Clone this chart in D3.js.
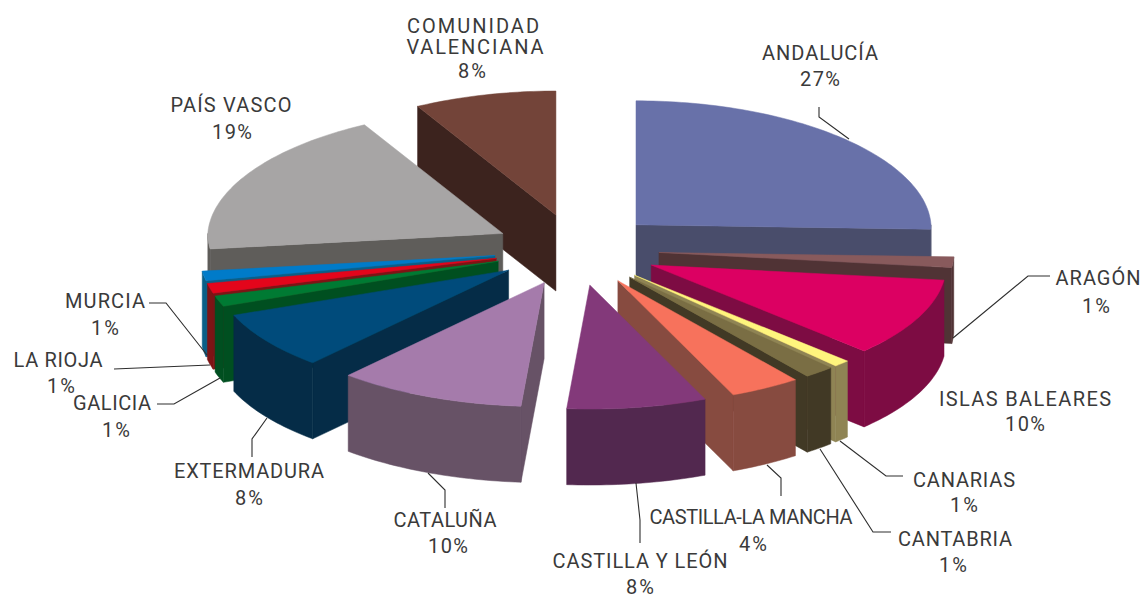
<!doctype html>
<html>
<head>
<meta charset="utf-8">
<style>
    html, body { margin: 0; padding: 0; background: #fff; overflow: hidden; }
    svg { display: block; }
    .lbl { font-family: Roboto, "Liberation Sans", sans-serif; font-size: 20px; fill: #3a3a3a; }
    .leader { fill: none; stroke: #2e2e2e; stroke-width: 1.1; }
</style>
<script src="https://d3js.org/d3.v7.min.js"></script>
</head>
<body>
<svg width="1141" height="594"></svg>
<script>
// clockwise from 12 o'clock
var categories = ["ANDALUCÍA", "ARAGÓN", "ISLAS BALEARES", "CANARIAS", "CANTABRIA",
    "CASTILLA-LA MANCHA", "CASTILLA Y LEÓN", "CATALUÑA", "EXTERMADURA", "GALICIA",
    "LA RIOJA", "MURCIA", "PAÍS VASCO", "COMUNIDAD VALENCIANA"];
// share as drawn, measured off the slice angles
var shares = [25.56, 1.38, 10.23, 0.89, 1.66, 3.89, 7.64, 10.31, 7.52, 1.39, 1.28, 1.25, 19, 8];
// share as printed in the labels
var printed = ["27%", "1%", "10%", "1%", "1%", "4%", "8%", "10%", "8%", "1%", "1%", "1%", "19%", "8%"];
var topColors = ["#6871a9", "#885a5c", "#dc0062", "#fff57d", "#7a6e44", "#f7725c", "#83397a",
    "#a57bab", "#004b7b", "#007a33", "#e3051b", "#007bc9", "#a7a5a5", "#734439"];
var wallColors = ["#494d6b", "#503335", "#7d0c43", "#8f8454", "#413925", "#874b40", "#52284f",
    "#675266", "#052c47", "#004f20", "#7d1415", "#0a5f87", "#5f5d5a", "#3c231e"];

// label placement: name lines [centre x, baseline, width], then percent [centre x, baseline]
var labelSpots = [
    {lines: [[820, 60, 116]], pct: [820, 86]},
    {lines: [[1098, 285, 85]], pct: [1096, 313]},
    {lines: [[1025, 406, 172]], pct: [1025, 431]},
    {lines: [[964, 487, 102]], pct: [964, 512]},
    {lines: [[955, 546, 114]], pct: [953, 572]},
    {lines: [[751, 524, 203]], pct: [753, 551]},
    {lines: [[640, 568, 175]], pct: [640, 594]},
    {lines: [[445, 527, 103]], pct: [448, 553]},
    {lines: [[249, 478, 150]], pct: [249, 505]},
    {lines: [[112, 410, 78]], pct: [116, 437]},
    {lines: [[58, 367, 89]], pct: [61, 393]},
    {lines: [[105, 308, 80]], pct: [105, 335]},
    {lines: [[231, 112, 121]], pct: [232, 139]},
    {lines: [[473, 33, 132], [475, 54, 137]], pct: [472, 78]}
];
var leaders = [
    [[819, 107], [819, 117], [849, 139]],
    [[1050, 276], [1028, 276], [953, 338]],
    [[840, 441], [886, 476], [903, 476]],
    [[820, 449], [873, 532], [891, 532]],
    [[767, 465], [781, 478], [781, 496]],
    [[636, 483], [640, 520], [640, 543]],
    [[428, 473], [445, 490], [445, 508]],
    [[267, 418], [252, 439], [252, 457]],
    [[220, 378], [174, 404], [157, 404]],
    [[210, 365], [114, 369]],
    [[149, 303], [166, 303], [207, 355]]
];

var cx = 576.5, cy = 249.7, // pie centre before exploding
    explodeX = 82.7, explodeY = 35.8,
    rx = 295, ry = 124,
    farShrink = 0.03, // far half of the pie is a bit narrower, perspective
    depth = 76;

var svg = d3.select("svg");
var px = d3.scaleLinear().domain([-1, 1]).range([-rx, rx]);
var py = d3.scaleLinear().domain([-1, 1]).range([ry, -ry]);
var line = d3.line();

var arcs = d3.pie().sort(null).value(function(d) { return d; })(shares);

arcs.forEach(function(a, i) {
    a.i = i;
    a.mid = (a.startAngle + a.endAngle) / 2;
    a.ax = cx + Math.sin(a.mid) * explodeX;
    a.ay = cy - Math.cos(a.mid) * explodeY;
});

function rim(a, t) {
    var c = Math.cos(t);
    return [a.ax + px(Math.sin(t)) * (1 - farShrink * Math.max(0, c)), a.ay + py(c)];
}
function down(p) { return [p[0], p[1] + depth]; }
function sweep(t0, t1) {
    var n = Math.max(2, Math.ceil((t1 - t0) / 0.02));
    return d3.range(n + 1).map(function(k) { return t0 + (t1 - t0) * k / n; });
}

// far slices first, near ones paint over them
var order = arcs.slice().sort(function(a, b) { return Math.cos(b.mid) - Math.cos(a.mid); });

var g = svg.append("g");
order.forEach(function(a) {
    var apex = [a.ax, a.ay];
    var top = topColors[a.i], wall = wallColors[a.i];
    var s = a.startAngle, e = a.endAngle;
    var slice = g.append("g");

    function face(pts, fill) {
        slice.append("path").attr("d", line(pts) + "Z")
            .attr("fill", fill).attr("stroke", fill).attr("stroke-width", 0.5);
    }

    // cut faces that look towards the viewer
    if (Math.sin(s) < -1e-6) {
        var ps = rim(a, s);
        face([apex, ps, down(ps), down(apex)], wall);
    }
    if (Math.sin(e) > 1e-6) {
        var pe = rim(a, e);
        face([apex, pe, down(pe), down(apex)], wall);
    }
    // outer wall, front half only
    var w0 = Math.max(s, Math.PI / 2), w1 = Math.min(e, Math.PI * 1.5);
    if (w1 > w0) {
        var edge = sweep(w0, w1).map(function(t) { return rim(a, t); });
        face(edge.concat(edge.slice().reverse().map(down)), wall);
    }
    // top
    face([apex].concat(sweep(s, e).map(function(t) { return rim(a, t); })), top);
});

svg.append("g").selectAll("path").data(leaders).enter().append("path")
    .attr("class", "leader")
    .attr("d", function(d) { return line(d); });

var labels = svg.append("g");
arcs.forEach(function(a, i) {
    var spot = labelSpots[i];
    var words = spot.lines.length > 1 ? categories[i].split(" ") : [categories[i]];
    spot.lines.forEach(function(l, k) {
        labels.append("text").attr("class", "lbl")
            .attr("x", l[0]).attr("y", l[1])
            .attr("text-anchor", "middle")
            .attr("textLength", l[2])
            .attr("lengthAdjust", "spacing")
            .text(words[k]);
    });
    labels.append("text").attr("class", "lbl")
        .attr("x", spot.pct[0]).attr("y", spot.pct[1])
        .attr("text-anchor", "middle")
        .attr("textLength", printed[i].length > 2 ? 40 : 28)
        .attr("lengthAdjust", "spacing")
        .text(printed[i]);
});
</script>
</body>
</html>
